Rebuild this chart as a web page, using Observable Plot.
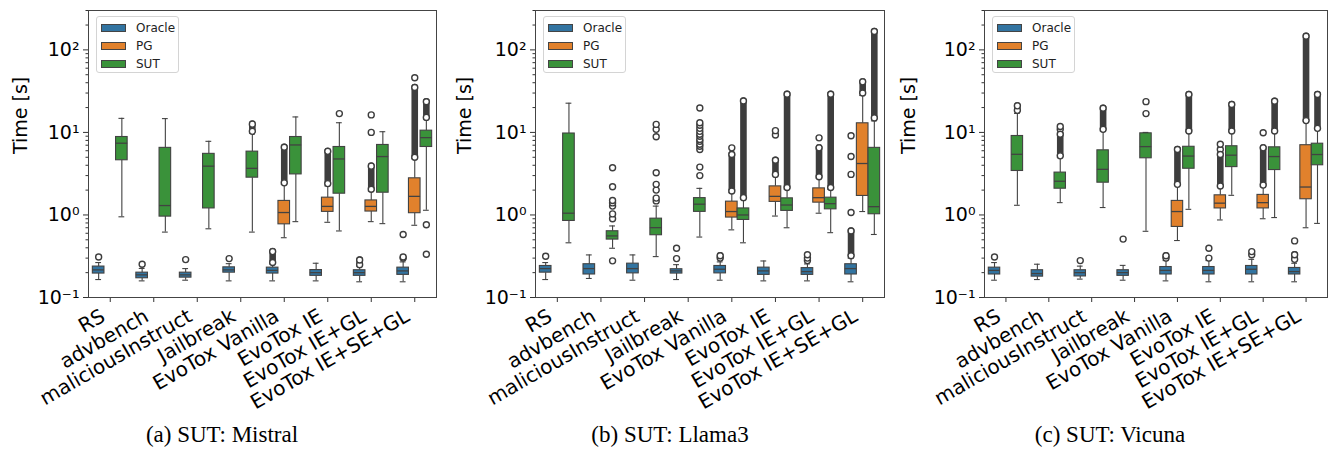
<!DOCTYPE html>
<html><head><meta charset="utf-8">
<script src="https://cdn.jsdelivr.net/npm/d3@7"></script>
<script src="https://cdn.jsdelivr.net/npm/@observablehq/plot@0.6"></script>
<style>
html,body{margin:0;padding:0;background:#fff;}
#root{position:relative;width:1332px;height:455px;overflow:hidden;font-family:"DejaVu Sans",sans-serif;}
.panel{position:absolute;top:0;}
.caption{position:absolute;top:423px;font-family:"Liberation Serif",serif;font-size:23px;line-height:23px;white-space:nowrap;transform:translateX(-50%);color:#000;}
.legend{position:absolute;top:16px;width:83px;height:57px;border:1px solid #d4d4d4;border-radius:3px;background:rgba(255,255,255,0.85);box-sizing:border-box;}
.legend .row{position:absolute;left:0;height:18px;}
.legend .sw{position:absolute;left:4px;width:25px;height:8px;border:1px solid #444;box-sizing:border-box;}
.legend .lb{position:absolute;left:39px;font-size:12px;line-height:12px;white-space:nowrap;color:#222;}
</style>
</head><body><div id="root"></div>
<script>
// ---------------- data ----------------
const categories = ["RS","advbench","maliciousInstruct","Jailbreak","EvoTox Vanilla","EvoTox IE","EvoTox IE+GL","EvoTox IE+SE+GL"];
const hues = ["Oracle","PG","SUT"];
const hueColors = ["#3274a1","#e1812c","#3a923a"];
const captions = ["(a) SUT: Mistral","(b) SUT: Llama3","(c) SUT: Vicuna"];
const yLabel = "Time [s]";
const yTicks = [0.1, 1, 10, 100];
const yTickLabels = ["10\u207B\u00B9","10\u2070","10\u00B9","10\u00B2"];
const yMinorTicks = [0.2,0.3,0.4,0.5,0.6,0.7,0.8,0.9,2,3,4,5,6,7,8,9,20,30,40,50,60,70,80,90,200,300];

// box stats per category: [whiskerLow, q1, median, q3, whiskerHigh]
const mistralOracle = [[0.165,0.195,0.216,0.237,0.265],[0.159,0.171,0.188,0.2,0.225],[0.162,0.174,0.188,0.2,0.224],[0.159,0.2,0.216,0.232,0.257],[0.159,0.195,0.213,0.23,0.255],[0.159,0.183,0.2,0.215,0.26],[0.155,0.183,0.2,0.214,0.24],[0.155,0.188,0.21,0.23,0.27]];
const mistralPG = [null,null,null,null,[0.53,0.77,1.07,1.48,2.35],[0.815,1.09,1.27,1.62,2.25],[0.83,1.1,1.27,1.5,1.95],[0.75,1.05,1.68,2.78,4.8]];
const mistralSUT = [[0.95,4.6,7.4,8.8,14.8],[0.62,0.955,1.3,6.5,14.7],[0.68,1.2,3.9,5.5,7.8],[0.62,2.83,3.67,5.85,9.8],[0.83,3.1,7.05,8.8,15.4],[0.64,1.81,4.77,6.66,13.1],[0.785,1.86,5.1,7.05,10.2],[1.14,6.66,8.65,10.5,14.5]];
const llamaOracle = [[0.165,0.2,0.224,0.241,0.265],[0.17,0.19,0.224,0.253,0.328],[0.162,0.196,0.224,0.257,0.328],[0.165,0.195,0.21,0.22,0.25],[0.162,0.196,0.22,0.241,0.27],[0.159,0.188,0.21,0.23,0.277],[0.159,0.188,0.206,0.227,0.255],[0.155,0.19,0.224,0.253,0.3]];
const llamaPG = [null,null,null,null,[0.66,0.93,1.1,1.45,1.86],[0.97,1.44,1.68,2.22,3.0],[1.05,1.41,1.62,2.1,2.8],[1.1,1.7,4.2,12.9,28]];
const llamaSUT = [[0.46,0.846,1.05,9.7,22.6],[0.395,0.503,0.557,0.635,0.736],[0.313,0.568,0.702,0.902,1.28],[0.54,1.09,1.35,1.6,2.1],[0.46,0.87,1.0,1.2,1.55],[0.7,1.12,1.32,1.59,2.05],[0.61,1.17,1.37,1.62,2.05],[0.58,1.02,1.26,6.5,13.8]];
const vicunaOracle = [[0.162,0.19,0.213,0.23,0.265],[0.165,0.179,0.195,0.214,0.253],[0.167,0.18,0.2,0.214,0.24],[0.162,0.183,0.2,0.214,0.245],[0.159,0.19,0.213,0.234,0.28],[0.155,0.19,0.213,0.234,0.28],[0.155,0.19,0.22,0.241,0.29],[0.155,0.19,0.206,0.228,0.26]];
const vicunaPG = [null,null,null,null,[0.49,0.716,1.1,1.48,2.3],[0.87,1.2,1.39,1.73,2.2],[0.9,1.2,1.41,1.75,2.2],[0.7,1.55,2.18,7.0,13.7]];
const vicunaSUT = [[1.31,3.41,5.43,9.05,17],[1.41,2.08,2.56,3.26,4.95],[1.23,2.46,3.57,6.07,10.4],[0.634,4.86,6.73,9.75,10],[1.17,3.63,5.17,6.7,10.2],[1.73,3.8,5.3,6.8,10.2],[0.93,3.5,5.1,6.6,10.2],[0.79,4.0,5.4,7.3,10.9]];

// sparse outliers per category
const mistralOracleOut = [[0.31],[0.253],[0.288],[0.296],[],[],[],[0.3,0.31,0.58]];
const mistralPGOut = [[],[],[],[],[],[],[10,16.3],[46]];
const mistralSUTOut = [[],[],[],[],[],[16.9],[],[0.76,0.334]];
const llamaOracleOut = [[0.316],[],[],[0.296,0.395],[],[],[0.28,0.3,0.33],[1.07,3.1,5.1,9.1]];
const llamaPGOut = [[],[],[],[],[6.5],[9.3,10.5],[8.6],[]];
const llamaSUTOut = [[],[0.278,0.9,1.03,1.28,1.4,1.5,2.2,3.73],[1.48,1.6,2.0,2.35,3.25,8.85,10.9,12.5],[3.0,3.8,6.2,6.8,7.2,7.8,8.2,9.0,9.5,10.3,11.2,12.2,13.1,19.8],[],[],[],[]];
const vicunaOracleOut = [[0.31],[],[0.28],[0.51],[],[0.3,0.395],[0.33,0.36],[0.485]];
const vicunaPGOut = [[],[],[],[],[],[6.2,7.2],[9.9],[]];
const vicunaSUTOut = [[],[10.9,11.8],[],[16.9,23.6],[],[],[],[]];

// dense outlier runs per category: [low, high]
const mistralOracleDense = [null,null,null,null,[0.265,0.36],null,[0.25,0.285],null];
const mistralPGDense = [null,null,null,null,[2.45,6.6],[2.4,5.9],[2.05,3.9],[5.0,35]];
const mistralSUTDense = [null,null,null,[10.3,12.6],null,null,null,[15.2,23.5]];
const llamaOracleDense = [null,null,null,null,[0.3,0.32],null,null,[0.32,0.64]];
const llamaPGDense = [null,null,null,null,[1.95,5.4],[3.1,4.6],[2.9,6.5],[30,41]];
const llamaSUTDense = [null,null,null,null,[1.62,24],[2.15,29],[2.15,29],[15,167]];
const vicunaOracleDense = [null,null,null,null,[0.3,0.32],null,null,[0.29,0.33]];
const vicunaPGDense = [null,null,null,null,[2.35,6.2],[2.24,5.4],[2.3,6.5],[13.9,146]];
const vicunaSUTDense = [[18.5,21],[5.2,9.5],[10.9,19.6],null,[10.4,28.8],[10.4,21.8],[10.4,23.9],[11.2,28.8]];

// ---------------- layout ----------------
const panels = [
  {stats:[mistralOracle,mistralPG,mistralSUT], outs:[mistralOracleOut,mistralPGOut,mistralSUTOut], dense:[mistralOracleDense,mistralPGDense,mistralSUTDense], left:0, width:444, ml:88, mr:8, cap:222},
  {stats:[llamaOracle,llamaPG,llamaSUT], outs:[llamaOracleOut,llamaPGOut,llamaSUTOut], dense:[llamaOracleDense,llamaPGDense,llamaSUTDense], left:444, width:444, ml:91, mr:4, cap:670},
  {stats:[vicunaOracle,vicunaPG,vicunaSUT], outs:[vicunaOracleOut,vicunaPGOut,vicunaSUTOut], dense:[vicunaOracleDense,vicunaPGDense,vicunaSUTDense], left:888, width:444, ml:96, mr:5, cap:1110}
];
const slot = 0.8 / 3;
const lineColor = "#424242";
const root = document.getElementById("root");

panels.forEach((p, pi) => {
  const boxes = [], points = [], runs = [];
  hues.forEach((hue, h) => {
    categories.forEach((cat, i) => {
      const xc = i + (h - 1) * slot;
      const s = p.stats[h][i];
      if (s) boxes.push({hue, xc, xl: xc - slot/2, xr: xc + slot/2, cl: xc - slot/4, cr: xc + slot/4, lo: s[0], q1: s[1], med: s[2], q3: s[3], hi: s[4]});
      (p.outs[h][i] || []).forEach(v => points.push({xc, v}));
      const d = p.dense[h][i];
      if (d) { runs.push({xc, y1: d[0], y2: d[1]}); points.push({xc, v: d[0]}); points.push({xc, v: d[1]}); }
    });
  });
  const chart = Plot.plot({
    width: p.width, height: 410,
    marginLeft: p.ml, marginRight: p.mr, marginTop: 10, marginBottom: 113,
    style: {fontFamily: "DejaVu Sans", background: "white", overflow: "visible"},
    x: {type: "linear", domain: [-0.5, 7.5]},
    y: {type: "log", domain: [0.1, 300]},
    color: {domain: hues, range: hueColors},
    marks: [
      Plot.ruleX(boxes, {x: "xc", y1: "lo", y2: "q1", stroke: lineColor, strokeWidth: 1.1}),
      Plot.ruleX(boxes, {x: "xc", y1: "q3", y2: "hi", stroke: lineColor, strokeWidth: 1.1}),
      Plot.ruleY(boxes, {y: "lo", x1: "cl", x2: "cr", stroke: lineColor, strokeWidth: 1.1}),
      Plot.ruleY(boxes, {y: "hi", x1: "cl", x2: "cr", stroke: lineColor, strokeWidth: 1.1}),
      Plot.rect(boxes, {x1: "xl", x2: "xr", y1: "q1", y2: "q3", fill: "hue", stroke: lineColor, strokeWidth: 1.1}),
      Plot.ruleY(boxes, {y: "med", x1: "xl", x2: "xr", stroke: lineColor, strokeWidth: 1.3}),
      Plot.ruleX(runs, {x: "xc", y1: "y1", y2: "y2", stroke: "#3d3d3d", strokeWidth: 6.6, strokeLinecap: "round"}),
      Plot.dot(points, {x: "xc", y: "v", r: 3, stroke: "#3d3d3d", fill: "white", strokeWidth: 1.4}),
      Plot.axisY({ticks: yMinorTicks, tickSize: 2.5, tickFormat: () => "", stroke: "#333", label: null}),
      Plot.axisY({ticks: yTicks, tickSize: 5, tickPadding: 4, tickFormat: d => yTickLabels[yTicks.indexOf(d)], fontSize: 19, stroke: "#333", fill: "#000", label: null}),
      Plot.axisX({ticks: d3.range(categories.length), tickSize: 5, tickFormat: () => "", stroke: "#333", label: null}),
      Plot.axisX({ticks: d3.range(categories.length), tickFormat: i => categories[i], tickRotate: -30, tickSize: 0, tickPadding: 17, dx: -7, fontSize: 20, fill: "#000", label: null}),
      Plot.text([yLabel], {frameAnchor: "left", rotate: -90, dx: -(p.ml - 20), fontSize: 19, fill: "#000"}),
      Plot.frame({stroke: "#444", strokeWidth: 1})
    ]
  });
  const wrap = document.createElement("div");
  wrap.className = "panel";
  wrap.style.left = p.left + "px";
  wrap.appendChild(chart);
  root.appendChild(wrap);

  const lg = document.createElement("div");
  lg.className = "legend";
  lg.style.left = (p.left + p.ml + 8) + "px";
  hues.forEach((hue, h) => {
    const row = document.createElement("div");
    row.className = "row";
    row.style.top = (1.5 + h * 18.3) + "px";
    const sw = document.createElement("div"); sw.className = "sw"; sw.style.background = hueColors[h]; sw.style.top = "5px";
    const lb = document.createElement("div"); lb.className = "lb"; lb.textContent = hue; lb.style.top = "3px";
    row.appendChild(sw); row.appendChild(lb);
    lg.appendChild(row);
  });
  root.appendChild(lg);

  const cap = document.createElement("div");
  cap.className = "caption";
  cap.style.left = p.cap + "px";
  cap.textContent = captions[pi];
  root.appendChild(cap);
});
</script>
</body></html>
